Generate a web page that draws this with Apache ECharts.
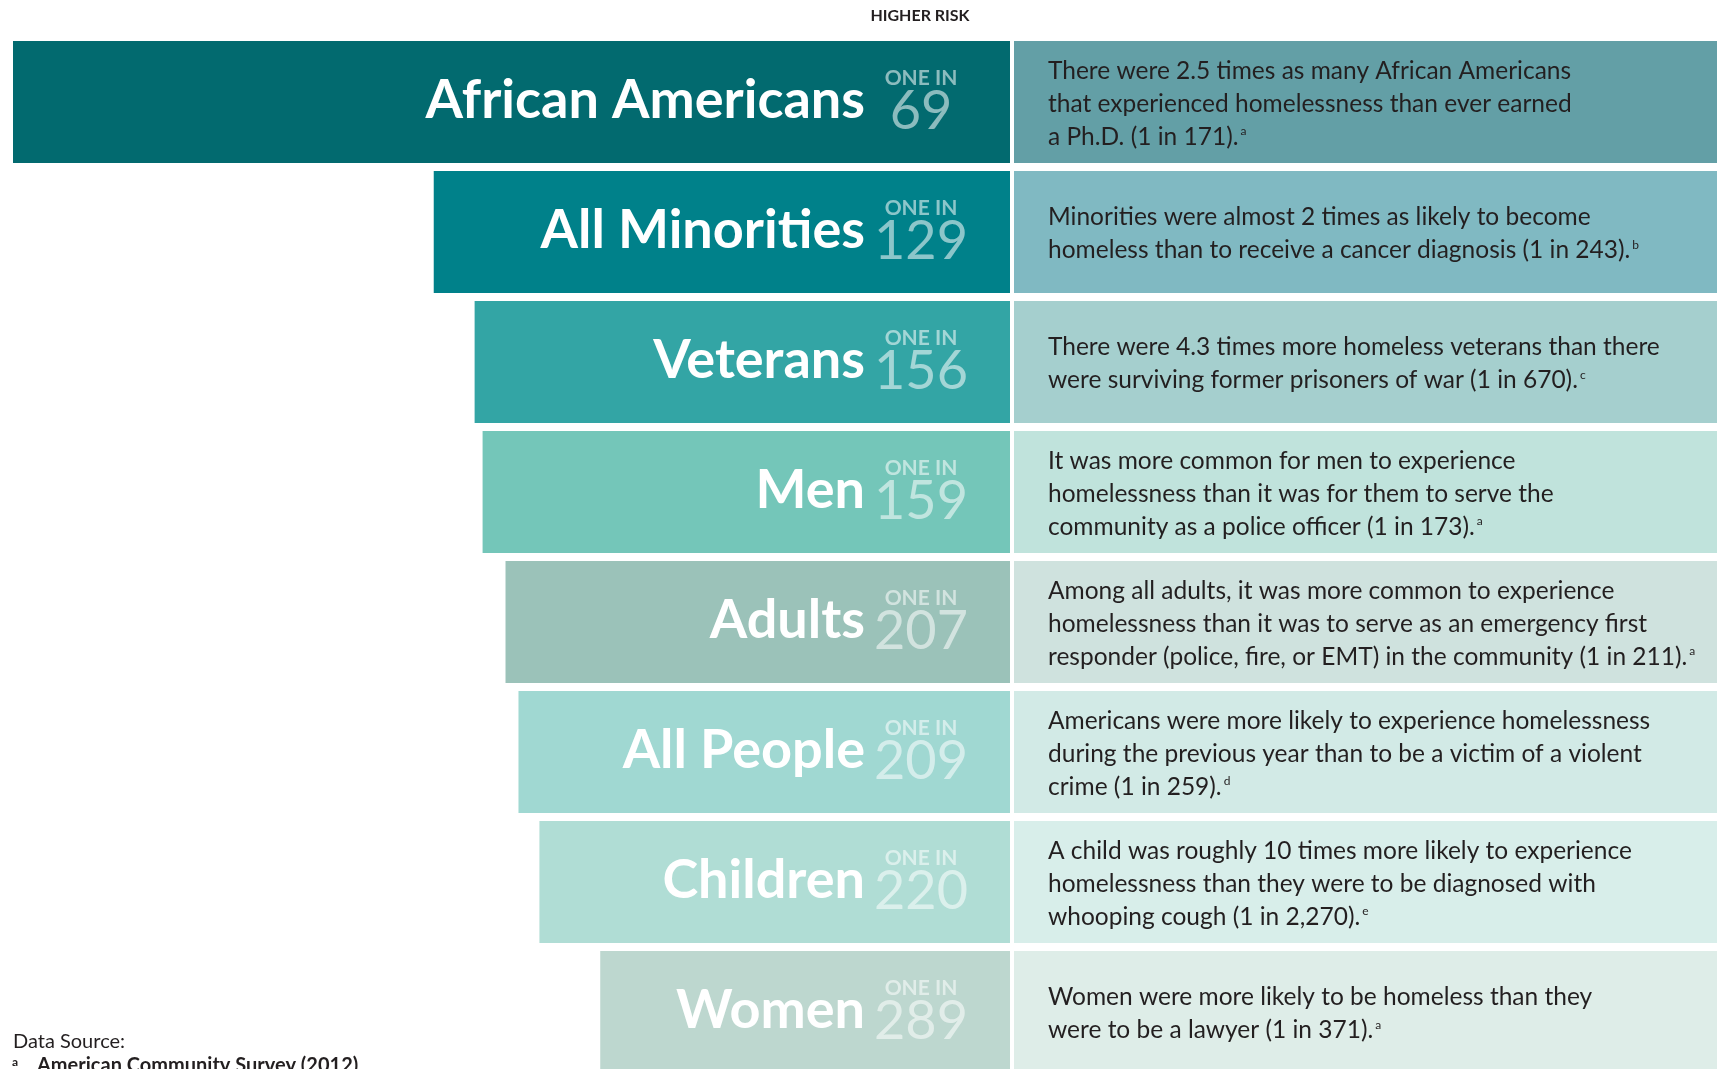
<!DOCTYPE html>
<html>
<head>
<meta charset="utf-8">
<script src="https://cdn.jsdelivr.net/npm/echarts@6/dist/echarts.min.js"></script>
<style>
  html, body { margin: 0; padding: 0; background: #fff; }
  #chart { width: 1717px; height: 1069px; }
</style>
</head>
<body>
<div id="chart"></div>
<script>
const chartDom = document.querySelector('#chart')
let riskChart = echarts.init(chartDom)

// groups, top (highest risk) to bottom
const groups = ['African Americans', 'All Minorities', 'Veterans', 'Men', 'Adults', 'All People', 'Children', 'Women']
// "one in N" experienced homelessness
const oneIn = [69, 129, 156, 159, 207, 209, 220, 289]
// bar length as drawn in the picture (longest bar = 100)
const barLength = [100, 57.8, 53.7, 52.9, 50.6, 49.3, 47.2, 41.1]
// comparison text for each group and its footnote letter
const comparisons = [
    'There were 2.5 times as many African Americans\nthat experienced homelessness than ever earned\na Ph.D. (1 in 171).',
    'Minorities were almost 2 times as likely to become\nhomeless than to receive a cancer diagnosis (1 in 243).',
    'There were 4.3 times more homeless veterans than there\nwere surviving former prisoners of war (1 in 670).',
    'It was more common for men to experience\nhomelessness than it was for them to serve the\ncommunity as a police officer (1 in 173).',
    'Among all adults, it was more common to experience\nhomelessness than it was to serve as an emergency first\nresponder (police, fire, or EMT) in the community (1 in 211).',
    'Americans were more likely to experience homelessness\nduring the previous year than to be a victim of a violent\ncrime (1 in 259).',
    'A child was roughly 10 times more likely to experience\nhomelessness than they were to be diagnosed with\nwhooping cough (1 in 2,270).',
    'Women were more likely to be homeless than they\nwere to be a lawyer (1 in 371).'
]
const footnotes = ['a', 'b', 'c', 'a', 'a', 'd', 'e', 'a']

const barColors = ['#026a6f', '#00818a', '#33a5a5', '#74c6b9', '#9bc2b9', '#a0d8d2', '#b0ddd5', '#bdd7cf']
const panelColors = ['#639fa6', '#80b9c2', '#a5cfce', '#c0e3dc', '#cfe2de', '#d2eae6', '#d8eeea', '#deede8']

const font = 'Lato'
const textDark = '#231f20'

function panelText(i){
    let lines = comparisons[i].split('\n').map(l => '{t|' + l + '}')
    lines[lines.length - 1] += '{sup|' + footnotes[i] + '}'
    return lines.join('\n')
}

let option = {
    backgroundColor: '#fff',
    animation: false,
    title: [
        {
            text: 'HIGHER RISK',
            left: 920,
            top: 8,
            padding: 0,
            textAlign: 'center',
            textStyle: { fontFamily: font, fontSize: 16, fontWeight: 'bold', color: textDark }
        },
        {
            text: 'Data Source:',
            left: 13,
            top: 1032,
            padding: 0,
            textStyle: { fontFamily: font, fontSize: 20, fontWeight: 'normal', color: textDark }
        },
        {
            text: '{sup|a}{t|American Community Survey (2012)}',
            left: 12,
            top: 1056,
            padding: 0,
            textStyle: {
                rich: {
                    sup: { fontFamily: font, fontSize: 12, color: textDark, verticalAlign: 'top', width: 25 },
                    t: { fontFamily: font, fontSize: 20, color: textDark }
                }
            }
        }
    ],
    grid: [
        { left: 13, width: 997, top: 37, height: 1040, outerBoundsMode: 'none' },
        { left: 1014, width: 703, top: 37, height: 1040, outerBoundsMode: 'none' }
    ],
    xAxis: [
        { gridIndex: 0, type: 'value', min: 0, max: 100, inverse: true, show: false },
        { gridIndex: 1, type: 'value', min: 0, max: 1, show: false }
    ],
    yAxis: [
        { gridIndex: 0, type: 'category', data: groups, inverse: true, show: false },
        { gridIndex: 1, type: 'category', data: groups, inverse: true, show: false }
    ],
    series: [
        {
            type: 'bar',
            name: 'group',
            xAxisIndex: 0,
            yAxisIndex: 0,
            barWidth: 122,
            data: barLength.map((v, i) => ({ value: v, itemStyle: { color: barColors[i] } })),
            label: {
                show: true,
                position: 'insideRight',
                distance: 145,
                offset: [0, -1],
                formatter: p => groups[p.dataIndex],
                fontFamily: font,
                fontSize: 54,
                fontWeight: 'bold',
                color: '#fff'
            }
        },
        {
            type: 'bar',
            name: 'one in',
            xAxisIndex: 0,
            yAxisIndex: 0,
            barWidth: 122,
            barGap: '-100%',
            data: barLength,
            itemStyle: { color: 'rgba(0,0,0,0)' },
            label: {
                show: true,
                position: 'insideRight',
                distance: 89,
                align: 'center',
                offset: [0, -1],
                formatter: p => '{one|ONE IN}\n{num|' + oneIn[p.dataIndex] + '}',
                rich: {
                    one: { fontFamily: font, fontSize: 21, fontWeight: 'bold', color: 'rgba(255,255,255,0.55)', lineHeight: 22, align: 'center' },
                    num: { fontFamily: font, fontSize: 54, fontWeight: 'normal', color: 'rgba(255,255,255,0.55)', lineHeight: 46, align: 'center' }
                }
            }
        },
        {
            type: 'bar',
            name: 'comparison',
            xAxisIndex: 1,
            yAxisIndex: 1,
            barWidth: 122,
            data: groups.map((g, i) => ({ value: 1, itemStyle: { color: panelColors[i] } })),
            label: {
                show: true,
                position: 'insideLeft',
                distance: 34,
                offset: [0, 2],
                formatter: p => panelText(p.dataIndex),
                rich: {
                    t: { fontFamily: font, fontSize: 24.5, color: textDark, lineHeight: 33 },
                    sup: { fontFamily: font, fontSize: 12, color: textDark, lineHeight: 33, verticalAlign: 'top', padding: [5, 0, 0, 2] }
                }
            }
        }
    ]
}

riskChart.setOption(option)
</script>
</body>
</html>
